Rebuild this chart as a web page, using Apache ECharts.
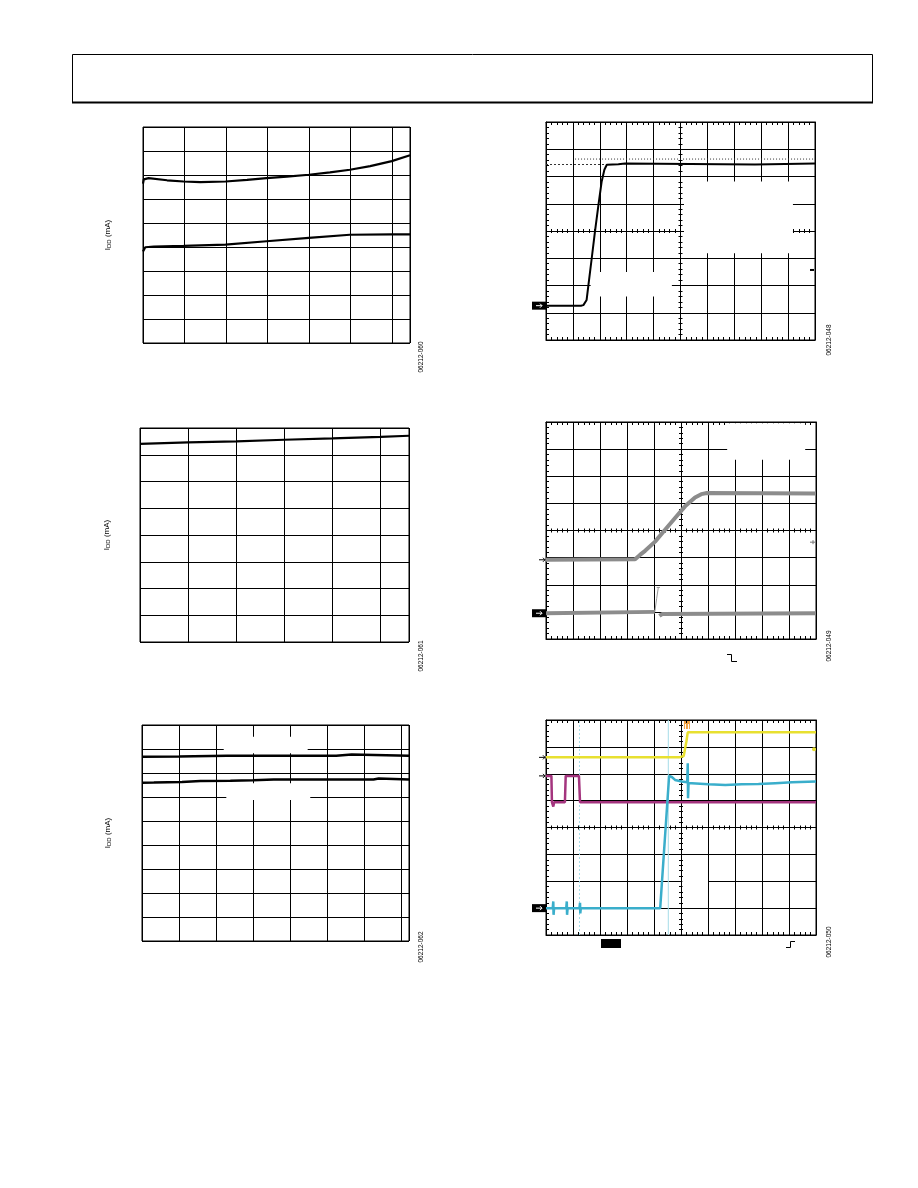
<!DOCTYPE html>
<html><head><meta charset="utf-8">
<script src="https://cdn.jsdelivr.net/npm/echarts@6/dist/echarts.min.js"></script>
<style>html,body{margin:0;padding:0;background:#fff}#c{width:918px;height:1188px}</style>
</head><body><div id="c"></div>
<script>
// ================= DATA =================
const yAxisLabel = 'I{s|DD} (mA)';
const figureCodes = ['06212-060', '06212-061', '06212-062', '06212-048', '06212-049', '06212-050'];

// Chart 1 (x, y in grid divisions)
const c1Upper = [[0,6.64],[0.02,6.82],[0.135,6.87],[0.58,6.78],[0.98,6.73],[1.38,6.70],[1.99,6.73],[2.51,6.80],[2.98,6.87],[3.47,6.93],[4.0,7.01],[4.51,7.11],[4.99,7.22],[5.48,7.37],[6.0,7.58],[6.44,7.82]];
const c1Lower = [[0,3.81],[0.055,3.99],[0.26,4.02],[0.98,4.05],[1.99,4.10],[2.98,4.24],[4.0,4.38],[4.99,4.51],[6.0,4.53],[6.44,4.53]];
// Chart 2
const c2Line = [[0,7.41],[1,7.46],[2,7.50],[3,7.56],[4,7.61],[5,7.67],[5.59,7.71]];
// Chart 3
const c3Upper = [[0,7.68],[1.0,7.69],[1.4,7.70],[2.3,7.72],[5.25,7.72],[5.27,7.77],[5.67,7.77],[5.69,7.72],[7.22,7.72]];
const c3Lower = [[0,6.59],[0.32,6.60],[0.35,6.62],[1.08,6.63],[1.58,6.67],[2.39,6.68],[3.0,6.70],[3.56,6.73],[6.26,6.73],[6.28,6.77],[6.40,6.77],[6.42,6.73],[7.22,6.73]];
const c3Blanks = [[[2.21,8.51],[4.48,7.82]], [[2.28,6.57],[4.55,5.87]]];
// Chart 4 (scope, 10 x 8 divisions)
const c4Trace = [[0,1.26],[1.30,1.26],[1.39,1.28],[1.51,1.47],[1.57,1.96],[1.70,3.0],[1.82,3.98],[1.95,4.96],[2.07,5.82],[2.17,6.25],[2.26,6.43],[2.69,6.45],[2.71,6.48],[2.94,6.48],[2.96,6.44],[7.77,6.44],[7.80,6.48],[10,6.48]];
const c4CursorDotted = [[1.08,6.64],[10,6.64]];
const c4CursorDashed = [[0,6.44],[2.2,6.44]];
const c4TriggerLevel = 2.57;
const c4Blanks = [[[5.13,5.82],[9.18,3.18]], [[1.66,2.5],[4.68,1.6]]];
// Chart 5
const c5Upper = [[0,2.92],[3.30,2.94],[3.48,3.10],[3.67,3.25],[4.04,3.59],[4.41,4.03],[4.78,4.46],[5.15,4.89],[5.52,5.22],[5.75,5.34],[5.96,5.38],[10,5.36]];
const c5LowerLeft = [[0,0.95],[4.03,1.0]];
const c5LowerRight = [[4.2,0.85],[4.26,0.86],[4.3,0.92],[10,0.95]];
const c5Glitch = [[4.03,1.0],[4.10,1.5],[4.16,1.9]];
const c5GlitchCap = [[4.10,1.9],[4.22,1.9]];
const c5TriggerLevel = 3.57;
const c5Blanks = [[[6.71,7.95],[9.6,6.61]]];
// Chart 6
const c6Yellow = [[0,6.61],[4.93,6.61],[5.1,6.66],[5.2,7.2],[5.25,7.54],[10,7.54]];
const c6Magenta = [[0,5.92],[0.2,5.92],[0.22,4.94],[0.27,4.78],[0.3,4.94],[0.70,4.94],[0.73,5.92],[1.22,5.92],[1.26,4.94],[10,4.94]];
const c6Cyan = [[0,1.0],[0.25,1.0],[0.27,1.25],[0.28,0.75],[0.30,1.0],[0.75,1.0],[0.77,1.25],[0.78,0.75],[0.80,1.0],[1.24,1.0],[1.26,1.2],[1.27,0.8],[1.29,1.0],[4.23,1.0],[4.56,5.92],[4.66,5.88],[4.78,5.77],[5.03,5.71],[5.23,5.68],[5.25,6.39],[5.26,5.09],[5.28,5.65],[5.40,5.65],[6.02,5.61],[6.64,5.58],[7.25,5.61],[7.87,5.62],[8.49,5.65],[9.11,5.68],[10,5.71]];
const c6CursorSolid = [[4.53,0],[4.53,8]];
const c6CursorDotted = [[1.24,0],[1.24,8]];
const c6TriggerLevel = 6.91;
const c6TriggerPos = 5.22;
const c6Blanks = [[[5.05,2.15],[6.0,1.8]]];

// ================= LAYOUT =================
const FONT = 'Liberation Sans';
const plainGrids = [
  {left:143, top:127, width:267, height:216, xmax:6.44, ymax:9, gap:31},
  {left:140, top:428, width:269, height:214, xmax:5.59, ymax:8, gap:29},
  {left:142, top:725, width:267, height:216, xmax:7.22, ymax:9, gap:30}
];
const scopeGrids = [
  {left:546, top:122, width:269, height:218},
  {left:546, top:422, width:270, height:217},
  {left:546, top:720, width:270, height:215}
];
const grids = [], xAxes = [], yAxes = [], series = [];
const axisRef = [];
const BLK = '#000';

plainGrids.forEach((g, i) => {
  grids.push({left:g.left, top:g.top, width:g.width, height:g.height, show:true, borderColor:BLK, borderWidth:1, backgroundColor:'transparent'});
  const xi = xAxes.length, yi = yAxes.length;
  xAxes.push({type:'value', gridIndex:i, min:0, max:g.xmax, interval:1, axisLabel:{show:false}, axisTick:{show:false}, axisLine:{show:false}, splitLine:{show:true, lineStyle:{color:BLK, width:1}}});
  yAxes.push({type:'value', gridIndex:i, min:0, max:g.ymax, interval:1, axisLabel:{show:false}, axisTick:{show:false}, axisLine:{show:false}, splitLine:{show:true, lineStyle:{color:BLK, width:1}},
    name: yAxisLabel, nameLocation:'middle', nameGap:g.gap,
    nameTextStyle:{fontFamily:FONT, fontSize:8, color:BLK, rich:{s:{fontFamily:FONT, fontSize:6, color:BLK, verticalAlign:'bottom', padding:[3,0,0,0]}}}});
  axisRef.push({x:xi, y:yi});
});

scopeGrids.forEach((g, k) => {
  const gi = grids.length;
  grids.push({left:g.left, top:g.top, width:g.width, height:g.height, show:true, borderColor:BLK, borderWidth:1, backgroundColor:'transparent'});
  const base = {type:'value', gridIndex:gi, min:0, interval:1, axisLabel:{show:false}, splitLine:{show:false}};
  const mt = {show:true, splitNumber:5, length:3, lineStyle:{color:BLK, width:1}};
  const xi = xAxes.length, yi = yAxes.length;
  xAxes.push(Object.assign({}, base, {max:10, position:'bottom', splitLine:{show:true, lineStyle:{color:BLK, width:1}}, axisLine:{show:true, onZero:false, lineStyle:{color:BLK, width:1}}, axisTick:{show:false, inside:true}, minorTick:mt}));
  xAxes.push(Object.assign({}, base, {max:10, position:'top', axisLine:{show:true, onZero:false, lineStyle:{color:BLK, width:1}}, axisTick:{show:false, inside:true}, minorTick:mt}));
  xAxes.push(Object.assign({}, base, {max:10, position:'bottom', offset:-g.height/2, axisLine:{show:false, onZero:false}, axisTick:{show:false, inside:true}, minorTick:Object.assign({}, mt, {length:2})}));
  xAxes.push(Object.assign({}, base, {max:10, position:'bottom', offset:-g.height/2, axisLine:{show:false, onZero:false}, axisTick:{show:false, inside:false}, minorTick:Object.assign({}, mt, {length:2})}));
  yAxes.push(Object.assign({}, base, {max:8, position:'left', splitLine:{show:true, lineStyle:{color:BLK, width:1}}, axisLine:{show:true, onZero:false, lineStyle:{color:BLK, width:1}}, axisTick:{show:false, inside:true}, minorTick:mt}));
  yAxes.push(Object.assign({}, base, {max:8, position:'right', axisLine:{show:true, onZero:false, lineStyle:{color:BLK, width:1}}, axisTick:{show:false}}));
  yAxes.push(Object.assign({}, base, {max:8, position:'left', offset:-g.width/2, axisLine:{show:false, onZero:false}, axisTick:{show:false, inside:true}, minorTick:Object.assign({}, mt, {length:2})}));
  yAxes.push(Object.assign({}, base, {max:8, position:'left', offset:-g.width/2, axisLine:{show:false, onZero:false}, axisTick:{show:false, inside:false}, minorTick:Object.assign({}, mt, {length:2})}));
  axisRef.push({x:xi, y:yi});
});

function line(ci, data, color, width, extra) {
  return Object.assign({type:'line', xAxisIndex:axisRef[ci].x, yAxisIndex:axisRef[ci].y, data:data, showSymbol:false, symbol:'none', animation:false, silent:true, z:3,
    lineStyle:{color:color, width:width}}, extra || {});
}
function blanks(ci, boxes) {
  if (!boxes.length) return;
  series.push({type:'line', xAxisIndex:axisRef[ci].x, yAxisIndex:axisRef[ci].y, data:[], symbol:'none', animation:false, silent:true, z:2,
    markArea:{silent:true, itemStyle:{color:'#fff', opacity:1}, data:boxes.map(b => [{coord:b[0]}, {coord:b[1]}])}});
}

blanks(2, c3Blanks); blanks(3, c4Blanks); blanks(4, c5Blanks); blanks(5, c6Blanks);

series.push(line(0, c1Upper, BLK, 2.2));
series.push(line(0, c1Lower, BLK, 2.2));
series.push(line(1, c2Line, BLK, 2.2));
series.push(line(2, c3Upper, BLK, 2.5));
series.push(line(2, c3Lower, BLK, 2.5));
series.push(line(3, c4CursorDotted, '#333', 1, {lineStyle:{color:'#333', width:1, type:[1,2]}}));
series.push(line(3, c4CursorDashed, '#333', 1, {lineStyle:{color:'#333', width:1, type:[2,2]}}));
series.push(line(3, c4Trace, BLK, 2));
const GRAY = '#8c8c8c';
series.push(line(4, c5Upper, GRAY, 4));
series.push(line(4, c5LowerLeft, GRAY, 4));
series.push(line(4, c5LowerRight, GRAY, 4));
series.push(line(4, c5Glitch, '#9a9a9a', 1));
series.push(line(4, c5GlitchCap, '#9a9a9a', 1));
series.push(line(5, c6CursorDotted, '#a6dce8', 1, {lineStyle:{color:'#a6dce8', width:1, type:[2,2]}}));
series.push(line(5, c6CursorSolid, '#a6dce8', 1));
series.push(line(5, c6Magenta, '#a4347e', 2.5));
series.push(line(5, c6Yellow, '#e8e030', 2.5));
series.push(line(5, c6Cyan, '#3aaecb', 2.5));

const chart = echarts.init(document.getElementById('c'), null, {renderer:'canvas'});
chart.setOption({backgroundColor:'#fff', animation:false, grid:grids, xAxis:xAxes, yAxis:yAxes, series:series});

// ============ decorations ============
function px(ci, pt) { return chart.convertToPixel({xAxisIndex:axisRef[ci].x, yAxisIndex:axisRef[ci].y}, pt); }
const G = [];
// header box
G.push({type:'rect', shape:{x:72.5, y:54.5, width:800, height:48}, style:{fill:'none', stroke:BLK, lineWidth:1}, silent:true});
G.push({type:'line', shape:{x1:72, y1:102.5, x2:873, y2:102.5}, style:{stroke:BLK, lineWidth:2}, silent:true});
// figure codes
const codePos = [[421,357],[421,656],[421,947],[829,340],[829,646],[829,942]];
figureCodes.forEach((t, i) => {
  G.push({type:'text', x:codePos[i][0], y:codePos[i][1], rotation:Math.PI/2, silent:true,
    style:{text:t, fontFamily:FONT, fontSize:6.5, fill:BLK, align:'center', verticalAlign:'middle'}});
});
// ground markers (black boxes with arrow)
function groundMarker(ci, level) {
  const p = px(ci, [0, level]);
  G.push({type:'rect', shape:{x:p[0]-14, y:p[1]-4, width:14, height:8}, style:{fill:BLK}, silent:true});
  G.push({type:'polyline', shape:{points:[[p[0]-10,p[1]],[p[0]-4,p[1]]]}, style:{stroke:'#fff', lineWidth:1}, silent:true});
  G.push({type:'polyline', shape:{points:[[p[0]-6,p[1]-2],[p[0]-4,p[1]],[p[0]-6,p[1]+2]]}, style:{stroke:'#fff', lineWidth:1, fill:'none'}, silent:true});
}
groundMarker(3, c4Trace[0][1]);
groundMarker(4, c5LowerLeft[0][1]);
groundMarker(5, c6Cyan[0][1]);
function levelArrow(ci, level, color) {
  const p = px(ci, [0, level]);
  G.push({type:'polyline', shape:{points:[[p[0]-7,p[1]],[p[0]-1,p[1]]]}, style:{stroke:color, lineWidth:1}, silent:true});
  G.push({type:'polyline', shape:{points:[[p[0]-3,p[1]-2],[p[0]-1,p[1]],[p[0]-3,p[1]+2]]}, style:{stroke:color, lineWidth:1, fill:'none'}, silent:true});
}
levelArrow(4, c5Upper[0][1], BLK);
levelArrow(5, c6Yellow[0][1], BLK);
levelArrow(5, c6Magenta[0][1], BLK);
// trigger level markers on right
(function(){
  let p = px(3, [10, c4TriggerLevel]);
  G.push({type:'line', shape:{x1:p[0]-5, y1:p[1], x2:p[0]-1, y2:p[1]}, style:{stroke:BLK, lineWidth:2}, silent:true});
  p = px(4, [10, c5TriggerLevel]);
  G.push({type:'line', shape:{x1:p[0]-6, y1:p[1], x2:p[0]-1, y2:p[1]}, style:{stroke:'#777', lineWidth:1}, silent:true});
  G.push({type:'line', shape:{x1:p[0]-3, y1:p[1]-2, x2:p[0]-3, y2:p[1]+2}, style:{stroke:'#777', lineWidth:1}, silent:true});
  p = px(5, [10, c6TriggerLevel]);
  G.push({type:'circle', shape:{cx:p[0]-2, cy:p[1], r:2}, style:{fill:'#e8e030'}, silent:true});
  p = px(5, [c6TriggerPos, 8]);
  G.push({type:'rect', shape:{x:p[0]-3, y:p[1], width:6, height:9}, style:{fill:'#f0a040'}, silent:true});
  G.push({type:'line', shape:{x1:p[0]-1.5, y1:p[1]+4, x2:p[0]-1.5, y2:p[1]+9}, style:{stroke:'#fff', lineWidth:1}, silent:true});
  G.push({type:'line', shape:{x1:p[0]+1.5, y1:p[1]+4, x2:p[0]+1.5, y2:p[1]+9}, style:{stroke:'#fff', lineWidth:1}, silent:true});
})();
// edge symbols and label block under scope screens
G.push({type:'polyline', shape:{points:[[727,654.5],[731.5,654.5],[731.5,661.5],[737,661.5]]}, style:{stroke:BLK, lineWidth:1, fill:'none'}, silent:true});
G.push({type:'polyline', shape:{points:[[786,947.5],[790.5,947.5],[790.5,941.5],[795,941.5]]}, style:{stroke:BLK, lineWidth:1, fill:'none'}, silent:true});
G.push({type:'rect', shape:{x:601, y:939, width:20, height:9}, style:{fill:BLK}, silent:true});

chart.setOption({graphic:G});
</script></body></html>
